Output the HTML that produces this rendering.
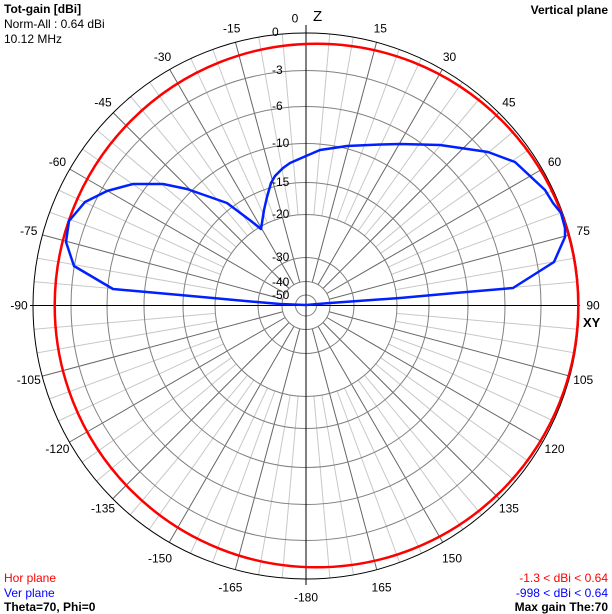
<!DOCTYPE html>
<html><head><meta charset="utf-8"><style>
html,body{margin:0;padding:0;background:#fff;}
svg{display:block;font-family:"Liberation Sans",Arial,sans-serif;}
</style></head><body>
<svg id="s" width="612" height="614" viewBox="0 0 612 614" xmlns="http://www.w3.org/2000/svg">
<rect x="0" y="0" width="612" height="614" fill="#fff"/>
<g id="grid"></g>
<g fill="none" stroke="#808080" stroke-width="1">
<circle cx="306" cy="305.5" r="235"/>
<circle cx="306" cy="305.5" r="199"/>
<circle cx="306" cy="305.5" r="162"/>
<circle cx="306" cy="305.5" r="123"/>
<circle cx="306" cy="305.5" r="91"/>
<circle cx="306" cy="305.5" r="48"/>
<circle cx="306" cy="305.5" r="24"/>
<circle cx="306" cy="305.5" r="10.5"/>
</g>
<circle cx="306" cy="306" r="273" fill="none" stroke="#000" stroke-width="1"/>
<line x1="306" y1="25" x2="306" y2="585" stroke="#000"/>
<line x1="30" y1="305.5" x2="580" y2="305.5" stroke="#000"/>
<circle cx="316.5" cy="305.5" r="261.8" fill="none" stroke="#f00" stroke-width="2.5"/>
<polyline fill="none" stroke="#0020ff" stroke-width="2.5" stroke-linejoin="round" points="306,305 330,303 400,298 455,293 513,288 554,262 565,237 565,228 561,213 553,203 545,190 530,176 515,162 488,152 440,145 400,144 380,144.5 347,146 320,150 306,156 290,163 283,168 275,176 271,183 267,197 264,210 261,229 251,221 227,203 187,189 163,184 133,184 107,191 85,202 69,221 66,242 74,266 113,289 180,295 257,302 280,304 306,305"/>
<g font-size="12" fill="#000" id="alabels"></g>
<g font-size="12" fill="#000">
<text x="272" y="36">0</text>
<text x="272" y="74">-3</text>
<text x="272" y="110">-6</text>
<text x="272" y="147">-10</text>
<text x="272" y="186">-15</text>
<text x="272" y="218">-20</text>
<text x="272" y="261">-30</text>
<text x="272" y="286">-40</text>
<text x="272" y="299">-50</text>
<text x="313" y="21" font-size="15">Z</text>
<text x="583" y="327" font-size="13" font-weight="bold">XY</text>
</g>
<g font-size="12">
<text x="4" y="13" font-weight="bold">Tot-gain [dBi]</text>
<text x="4" y="28">Norm-All : 0.64 dBi</text>
<text x="4" y="43">10.12 MHz</text>
<text x="608" y="14" font-weight="bold" text-anchor="end">Vertical plane</text>
<text x="4" y="582" fill="#f00">Hor plane</text>
<text x="4" y="597" fill="#00f">Ver plane</text>
<text x="4" y="611" font-weight="bold">Theta=70, Phi=0</text>
<text x="608" y="582" fill="#f00" text-anchor="end">-1.3 &lt; dBi &lt; 0.64</text>
<text x="608" y="597" fill="#00f" text-anchor="end">-998 &lt; dBi &lt; 0.64</text>
<text x="608" y="611" font-weight="bold" text-anchor="end">Max gain The:70</text>
</g>
</svg>
<script>
(function(){
var ns="http://www.w3.org/2000/svg",g=document.getElementById("grid"),cx=306,cy=305.5;
for(var a=0;a<360;a+=5){
 var t=a*Math.PI/180,s=Math.sin(t),c=-Math.cos(t);
 var dark=(a%15===0),r0=dark?24:91,r1=273;
 if(a%90===0)continue;
 var l=document.createElementNS(ns,"line");
 l.setAttribute("x1",cx+r0*s);l.setAttribute("y1",cy+r0*c);
 l.setAttribute("x2",cx+r1*s);l.setAttribute("y2",cy+r1*c);
 l.setAttribute("stroke",dark?"#666":"#c8c8c8");l.setAttribute("stroke-width","1");
 g.appendChild(l);
}
var L=document.getElementById("alabels");
for(var a=-165;a<=180;a+=15){
 var t=a*Math.PI/180,R=(Math.abs(a)>=150)?292:287;
 var x=cx+R*Math.sin(t),y=cy-R*Math.cos(t)+4;
 var tx=document.createElementNS(ns,"text");
 var lab=(a===180)?"-180":String(a);
 if(a===0){x=295;}
 tx.setAttribute("x",x);tx.setAttribute("y",y);tx.setAttribute("text-anchor","middle");
 tx.textContent=lab;L.appendChild(tx);
}
})();
</script>
</body></html>
